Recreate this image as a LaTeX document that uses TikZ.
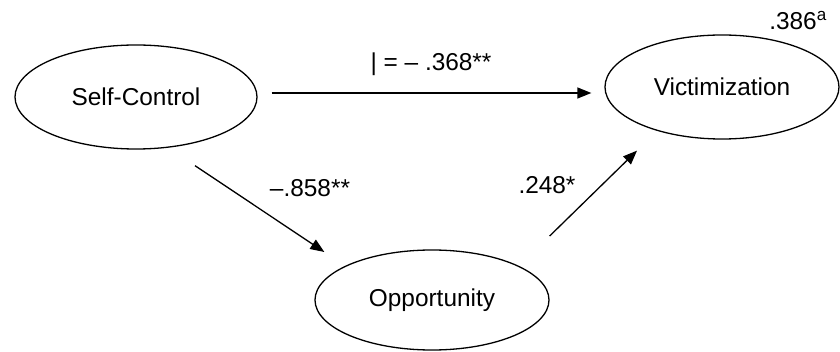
\documentclass[tikz,border=0pt]{standalone}
\usepackage{fontspec}
\setmainfont{Liberation Sans}
\usetikzlibrary{shapes.geometric,arrows.meta}
\tikzset{
  latent/.style={ellipse, draw, line width=1.3pt, inner sep=0pt, font=\fontsize{24.4}{29}\selectfont},
  coef/.style={inner sep=0pt, font=\fontsize{24.4}{29}\selectfont},
  arr/.style={line width=1.3pt, -{Triangle[length=14pt,width=11pt]}}
}
\begin{document}
\begin{tikzpicture}[x=1pt,y=-1pt]
\useasboundingbox (0,0) rectangle (840,352);
\node[latent, minimum width=242pt, minimum height=104pt] (sc) at (136,97) {Self-Control};
\node[latent, minimum width=234pt, minimum height=104pt] (vic) at (722,87) {Victimization};
\node[latent, minimum width=234pt, minimum height=100pt] (opp) at (432,300) {Opportunity};
\draw[arr] ([shift={(14,-4)}]sc.east) -- ([shift={(-13,6)}]vic.west);
\draw[arr] ([shift={(59,16)}]sc.south) -- ([shift={(10,-48)}]opp.west);
\draw[arr] ([shift={(0,-64)}]opp.east) -- ([shift={(-85,11)}]vic.south);
\node[coef] (b1) at (431,64) {| = – .368**};
\node[coef] (b2) at (310,188) {–.858**};
\node[coef] (b3) at (547,185) {.248*};
\node[coef] (r2) at (798,21) {.386\textsuperscript{a}};
\end{tikzpicture}
\end{document}
